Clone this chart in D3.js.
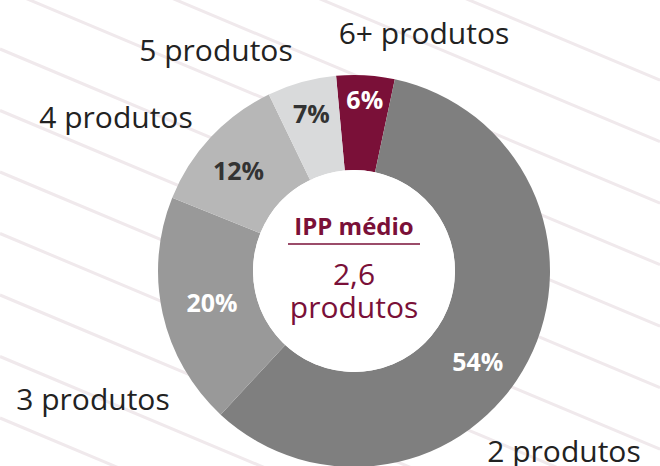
<!DOCTYPE html>
<html>
<head>
<meta charset="utf-8">
<script src="https://cdn.jsdelivr.net/npm/d3@7"></script>
<style>
  body { margin: 0; background: #fff; }
  svg { display: block; font-family: "Open Sans", sans-serif; }
</style>
</head>
<body>
<div id="chart"></div>
<script>
// categories, clockwise from the top
var categories = ["6+ produtos", "2 produtos", "3 produtos", "4 produtos", "5 produtos"];
// percentages printed on the slices
var percents = [6, 54, 20, 12, 7];
// slice sizes as drawn in the picture (share of the ring)
var arcShare = [4.8, 58.6, 19.2, 11.75, 5.7];
var centerTitle = "IPP médio";
var centerValue = ["2,6", "produtos"];

var colors = ["#7a1038", "#7f7f7f", "#999999", "#b7b7b7", "#d9dadb"];
var pctColors = ["#fff", "#fff", "#fff", "#333", "#333"];
// small nudges for the slice labels
var pctNudge = [[2, -23], [-8, 23], [3, 0], [-7, 1], [-3, -14]];
// outer label offsets from the centre (text middle, baseline)
var labelPos = [[70, -227], [210, 191], [-261, 139], [-238, -143], [-138, -210]];

var width = 660, height = 466,
    cx = 354, cy = 271,
    outerR = 196, innerR = 101,
    maroon = "#7a1038";

var svg = d3.select("#chart").append("svg")
    .attr("width", width)
    .attr("height", height);

// diagonal background stripes
var slope = 0.42;
svg.append("g").selectAll("line")
    .data(d3.range(0, 16))
    .join("line")
    .attr("x1", 0)
    .attr("y1", function(i) { return -197 + i * 61.5; })
    .attr("x2", width)
    .attr("y2", function(i) { return -197 + i * 61.5 + width * slope; })
    .attr("stroke", "#f0e9ec")
    .attr("stroke-width", 3);

var g = svg.append("g").attr("transform", "translate(" + cx + "," + cy + ")");

var start = -5.25 * Math.PI / 180;
var pie = d3.pie()
    .sort(null)
    .value(function(d, i) { return arcShare[i]; })
    .startAngle(start)
    .endAngle(start + 2 * Math.PI);

var arcs = pie(categories);

var arc = d3.arc().innerRadius(innerR).outerRadius(outerR);

g.selectAll("path.slice")
    .data(arcs)
    .join("path")
    .attr("class", "slice")
    .attr("d", arc)
    .attr("fill", function(d, i) { return colors[i]; });

// white hole
g.append("circle").attr("r", innerR).attr("fill", "#fff");

// percentage labels
g.selectAll("text.pct")
    .data(arcs)
    .join("text")
    .attr("class", "pct")
    .attr("x", function(d, i) { return arc.centroid(d)[0] + pctNudge[i][0]; })
    .attr("y", function(d, i) { return arc.centroid(d)[1] + pctNudge[i][1]; })
    .attr("dy", "0.36em")
    .attr("text-anchor", "middle")
    .attr("font-size", 25)
    .attr("font-weight", 700)
    .attr("fill", function(d, i) { return pctColors[i]; })
    .text(function(d, i) { return percents[i] + "%"; });

// category labels
g.selectAll("text.cat")
    .data(categories)
    .join("text")
    .attr("class", "cat")
    .attr("x", function(d, i) { return labelPos[i][0]; })
    .attr("y", function(d, i) { return labelPos[i][1]; })
    .attr("text-anchor", "middle")
    .attr("font-size", 30)
    .attr("fill", "#222")
    .text(function(d) { return d; });

// centre text
g.append("text")
    .attr("y", -36)
    .attr("text-anchor", "middle")
    .attr("font-size", 24)
    .attr("font-weight", 700)
    .attr("fill", maroon)
    .text(centerTitle);

g.append("line")
    .attr("x1", -66).attr("x2", 66)
    .attr("y1", -27).attr("y2", -27)
    .attr("stroke", maroon)
    .attr("stroke-width", 1.5);

g.selectAll("text.val")
    .data(centerValue)
    .join("text")
    .attr("class", "val")
    .attr("y", function(d, i) { return 14 + i * 33; })
    .attr("text-anchor", "middle")
    .attr("font-size", 30)
    .attr("fill", maroon)
    .text(function(d) { return d; });
</script>
</body>
</html>
